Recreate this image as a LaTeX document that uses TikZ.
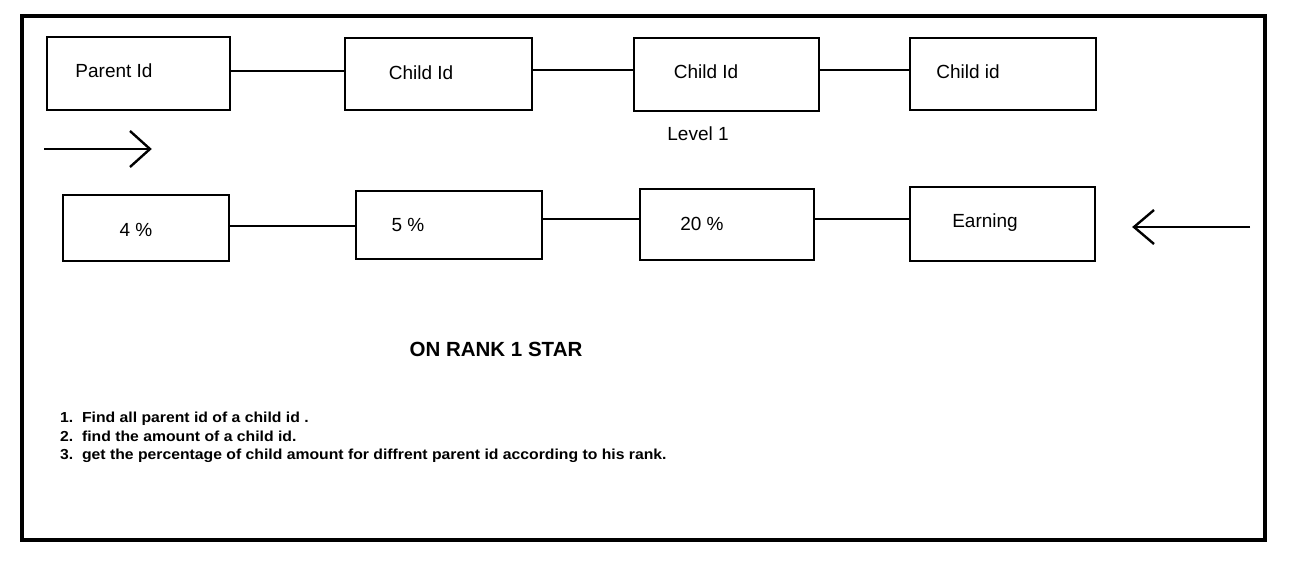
\documentclass[tikz,border=0pt]{standalone}
\usepackage{fontspec}
\setmainfont{Liberation Sans}
\begin{document}
\begin{tikzpicture}[x=1pt,y=-1pt,
  bx/.style={draw,line width=2.6pt,inner sep=0pt},
  lbl/.style={inner sep=0pt,font=\fontsize{19}{22}\selectfont},
  conn/.style={line width=2pt},
  arr/.style={line width=2.4pt,line cap=butt}]
\useasboundingbox (0,0) rectangle (1299,564);
\draw[line width=4pt] (22,16.5) rectangle (1265,540);
% row 1 boxes
\node[bx,minimum width=183pt,minimum height=73pt] (p) at (138.5,73.5) {};
\node[bx,minimum width=187pt,minimum height=72pt] (c1) at (438.5,74) {};
\node[bx,minimum width=185pt,minimum height=73pt] (c2) at (726.5,74.5) {};
\node[bx,minimum width=186pt,minimum height=72pt] (c3) at (1003,74) {};
\node[lbl] (tp) at (114,71) {Parent Id};
\node[lbl] (tc1) at (421,73) {Child Id};
\node[lbl] (tc2) at (706,72) {Child Id};
\node[lbl] (tc3) at (968,72) {Child id};
\draw[conn] (p.east |- 0,71) -- (c1.west |- 0,71);
\draw[conn] (c1.east |- 0,70) -- (c2.west |- 0,70);
\draw[conn] (c2.east |- 0,70) -- (c3.west |- 0,70);
\node[lbl] (lv) at (698,134) {Level 1};
% arrows
\coordinate (a1s) at (44,149);
\coordinate (a1e) at (150,149);
\draw[arr] (a1s) -- (a1e);
\draw[arr,line join=miter] (130,131) -- (a1e) -- (130,167);
\coordinate (a2s) at (1250,227);
\coordinate (a2e) at (1134,227);
\draw[arr] (a2s) -- (a2e);
\draw[arr,line join=miter] (1154,210) -- (a2e) -- (1154,244);
% row 2 boxes
\node[bx,minimum width=166pt,minimum height=66pt] (b4) at (146,228) {};
\node[bx,minimum width=186pt,minimum height=68pt] (b5) at (449,225) {};
\node[bx,minimum width=174pt,minimum height=71pt] (b20) at (727,224.5) {};
\node[bx,minimum width=185pt,minimum height=74pt] (be) at (1002.5,224) {};
\node[lbl] (t4) at (136,230) {4 \%};
\node[lbl] (t5) at (408,225) {5 \%};
\node[lbl] (t20) at (702,224) {20 \%};
\node[lbl] (te) at (985,223) {Earning};
\draw[conn] (b4.east |- 0,226) -- (b5.west |- 0,226);
\draw[conn] (b5.east |- 0,219) -- (b20.west |- 0,219);
\draw[conn] (b20.east |- 0,219) -- (be.west |- 0,219);
% title
\node[inner sep=0pt,font=\bfseries\fontsize{20.5}{24}\selectfont] (title) at (496,349) {ON RANK 1 STAR};
% list
\node[inner sep=0pt,anchor=west,font=\bfseries\fontsize{14.5}{18.5}\selectfont] (list) at (60,437.5) {%
\scalebox{1.086}[1]{\begin{tabular}{@{}l@{}}
1.\ \ Find all parent id of a child id .\\
2.\ \ find the amount of a child id.\\
3.\ \ get the percentage of child amount for diffrent parent id according to his rank.
\end{tabular}}};
\end{tikzpicture}
\end{document}
